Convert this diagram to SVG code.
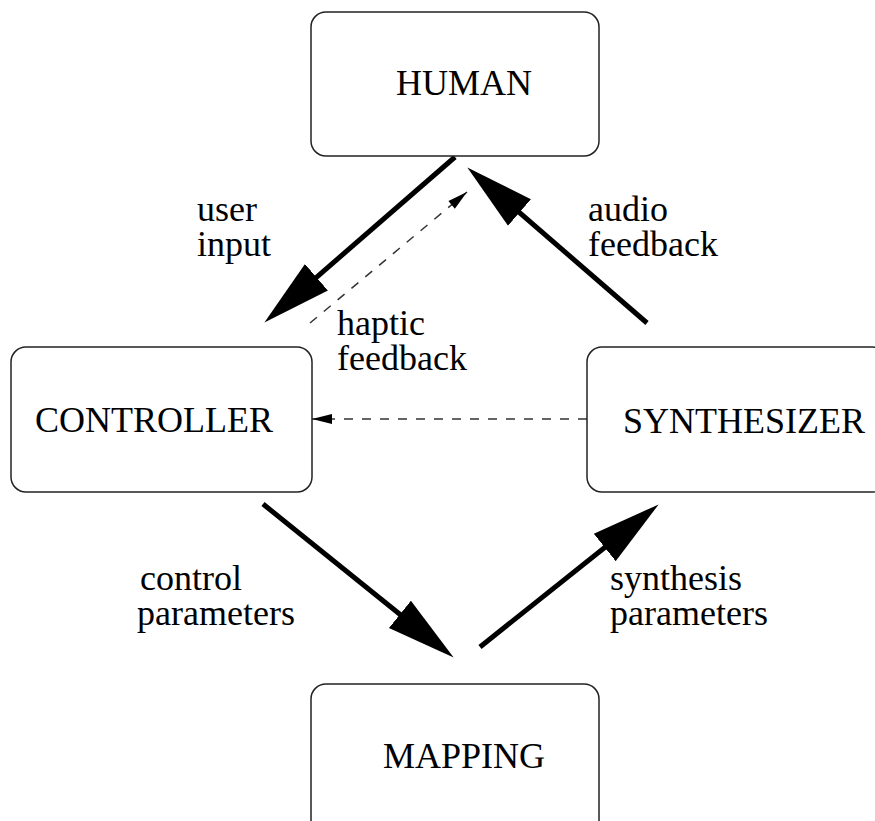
<svg xmlns="http://www.w3.org/2000/svg" width="875" height="821" viewBox="0 0 875 821">
<defs>
<style>
.box{fill:#fff;stroke:#222;stroke-width:1.5}
.t{font-family:"Liberation Serif","Times New Roman",serif;font-size:36px;fill:#000}
.thick{stroke:#000;stroke-width:5;fill:none}
.dash{stroke:#333;stroke-width:1.5;stroke-dasharray:9 9;fill:none}
</style>
<marker id="big" markerUnits="userSpaceOnUse" markerWidth="70" markerHeight="40" viewBox="0 -18 68 36" refX="37" refY="0" orient="auto">
<path d="M0,-17 L67,0 L0,17 z" fill="#000"/>
</marker>
<marker id="small" markerUnits="userSpaceOnUse" markerWidth="22" markerHeight="12" viewBox="0 -6 21 12" refX="20" refY="0" orient="auto">
<path d="M0,-5 L20,0 L0,5 z" fill="#000"/>
</marker>
</defs>
<rect width="875" height="821" fill="#fff"/>
<g id="connectors">
<line class="thick" x1="455" y1="157" x2="287.7" y2="302.3" marker-end="url(#big)"/>
<line class="dash" x1="310" y1="323" x2="467" y2="192" marker-end="url(#small)"/>
<line class="thick" x1="647" y1="323" x2="490.7" y2="187.6" marker-end="url(#big)"/>
<line class="thick" x1="263" y1="504" x2="429.6" y2="638.2" marker-end="url(#big)"/>
<line class="thick" x1="480" y1="647" x2="634.5" y2="523.7" marker-end="url(#big)"/>
<line class="dash" x1="587" y1="419" x2="312" y2="419" marker-end="url(#small)"/>
</g>
<g id="human">
<rect class="box" x="311" y="12" width="288" height="144" rx="15"/>
<text class="t" x="396" y="95">HUMAN</text>
</g>
<g id="controller">
<rect class="box" x="11" y="347" width="301" height="145" rx="15"/>
<text class="t" x="35" y="432">CONTROLLER</text>
</g>
<g id="synthesizer">
<rect class="box" x="587" y="347" width="300" height="145" rx="15"/>
<text class="t" x="623" y="433">SYNTHESIZER</text>
</g>
<g id="mapping">
<rect class="box" x="311" y="684" width="288" height="160" rx="15"/>
<text class="t" x="383" y="768">MAPPING</text>
</g>
<g id="labels">
<text class="t" x="197" y="221">user<tspan x="197" dy="35">input</tspan></text>
<text class="t" x="588" y="221">audio<tspan x="588" dy="35">feedback</tspan></text>
<text class="t" x="337" y="335">haptic<tspan x="337" dy="35">feedback</tspan></text>
<text class="t" x="140" y="590">control<tspan x="137" dy="35">parameters</tspan></text>
<text class="t" x="610" y="590">synthesis<tspan x="610" dy="35">parameters</tspan></text>
</g>
</svg>
